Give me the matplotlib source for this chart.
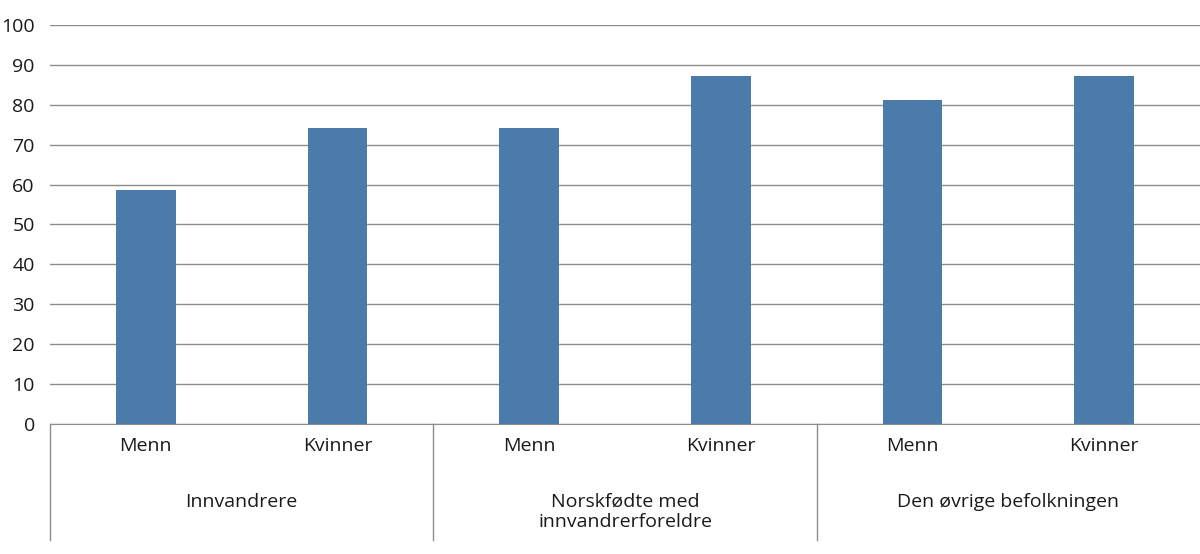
import matplotlib.pyplot as plt
from matplotlib.transforms import blended_transform_factory

plt.rcParams['font.family'] = ['Open Sans', 'DejaVu Sans']

groups = ['Innvandrere', 'Norskfødte med\ninnvandrerforeldre', 'Den øvrige befolkningen']
sexes = ['Menn', 'Kvinner']
values = [58.7, 74.2, 74.2, 87.2, 81.1, 87.2]

bar_color = '#4a7baa'
grid_color = '#8c8c8c'

fig = plt.figure(figsize=(12, 5.54), dpi=100)
ax = fig.add_axes([0.0417, 0.2347, 0.9583, 0.7203])

x = list(range(len(values)))
ax.bar(x, values, width=0.31, color=bar_color, zorder=3)

ax.set_ylim(0, 100)
ax.set_xlim(-0.5, len(values) - 0.5)
ax.set_yticks(range(0, 101, 10))
ax.tick_params(axis='y', length=0, labelsize=14, pad=11, colors='#1a1a1a')
ax.set_xticks([])
ax.grid(axis='y', color=grid_color, linewidth=1, zorder=0)
for s in ['top', 'right']:
    ax.spines[s].set_visible(False)
ax.spines['left'].set_visible(False)
ax.spines['bottom'].set_color(grid_color)

# multi-level category axis
tr = blended_transform_factory(ax.transData, ax.transAxes)
for i in x:
    ax.text(i, -0.055, sexes[i % 2], transform=tr, ha='center', va='center',
            fontsize=14, color='#1a1a1a')
for g, name in enumerate(groups):
    ax.text(2 * g + 0.5, -0.172, name, transform=tr, ha='center', va='top',
            fontsize=14, color='#1a1a1a', linespacing=1.2)
for b in [-0.5, 1.5, 3.5]:
    ax.plot([b, b], [0, -0.29], transform=tr, color=grid_color, linewidth=1,
            clip_on=False)

fig.savefig('out.png', dpi=100)
